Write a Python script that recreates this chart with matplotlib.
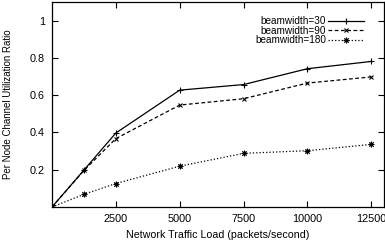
import matplotlib
matplotlib.use("Agg")
import matplotlib.pyplot as plt

# network load (packets/second) and per node channel utilization
carga = [0, 1250, 2500, 5000, 7500, 10000, 12500]
bw30 = [0, 0.198, 0.397, 0.627, 0.657, 0.742, 0.781]
bw90 = [0, 0.196, 0.367, 0.547, 0.581, 0.665, 0.698]
bw180 = [0, 0.068, 0.126, 0.219, 0.288, 0.302, 0.336]
xticks = [2500, 5000, 7500, 10000, 12500]
yticks = [0.2, 0.4, 0.6, 0.8, 1]

plt.rcParams["font.family"] = "Liberation Sans"
plt.rcParams["font.size"] = 7.8

fig = plt.figure(figsize=(3.85, 2.44), dpi=100)
ax = fig.add_axes([52 / 385, 37 / 244, 332 / 385, 205 / 244])

ax.plot(carga, bw30, "k-", lw=0.9, marker="+", ms=4.5, mew=0.8, label="beamwidth=30")
ax.plot(carga, bw90, "k--", lw=0.9, marker="x", ms=3.5, mew=0.8, dashes=(3, 2), label="beamwidth=90")
ax.plot(carga, bw180, "k:", lw=0.9, marker=(8, 2, 0), ms=4, mew=0.7, label="beamwidth=180")

ax.set_xlim(0, 13000)
ax.set_ylim(0, 1.1)
ax.set_xticks(xticks)
ax.set_xticklabels([str(t) for t in xticks])
ax.set_yticks(yticks)
ax.set_yticklabels(["0.2", "0.4", "0.6", "0.8", "1"])
ax.tick_params(direction="in", top=True, right=True, length=4, width=0.8, pad=5)
for s in ax.spines.values():
    s.set_linewidth(0.9)

ax.set_xlabel("Network Traffic Load (packets/second)", fontsize=7.7, labelpad=4)
ax.set_ylabel("Per Node Channel Utilization Ratio", fontsize=7, labelpad=12)

leg = ax.legend(loc="upper right", frameon=False, markerfirst=False, handlelength=3.6,
                handletextpad=0.2, labelspacing=-0.05, borderaxespad=0.0,
                fontsize=7.2, bbox_to_anchor=(0.952, 0.95))
for t in leg.get_texts():
    t.set_ha("right")
leg._legend_box.align = "right"

fig.savefig("out.png", dpi=100)
